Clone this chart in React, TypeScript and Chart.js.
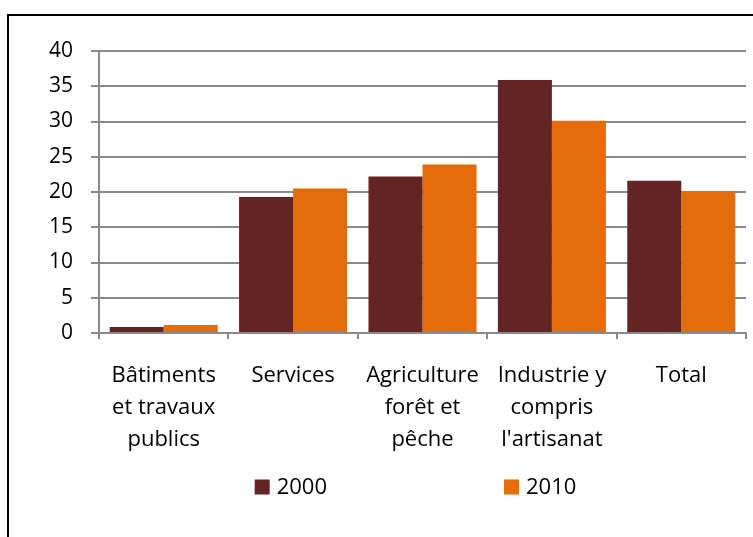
import React, { useEffect, useRef } from "react";
import { Chart, registerables } from "chart.js";

Chart.register(...registerables);

const categories: (string | string[])[] = [
  ["Bâtiments", "et travaux", "publics"],
  "Services",
  ["Agriculture", "forêt et", "pêche"],
  ["Industrie y", "compris", "l'artisanat"],
  "Total",
];
const seriesLabels = ["2000", "2010"];
const values2000 = [0.85, 19.3, 22.2, 35.9, 21.6];
const values2010 = [1.15, 20.5, 23.9, 30.1, 20.1];
const yTicks = [0, 5, 10, 15, 20, 25, 30, 35, 40];

const COLOR_2000 = "#632523";
const COLOR_2010 = "#E46C0A";
const GRID = "#8a8a8a";
const FONT = '"Open Sans", sans-serif';

const legendPlugin = {
  id: "customLegend",
  afterDraw(chart: any) {
    const { ctx, chartArea } = chart;
    ctx.save();
    ctx.font = `22px ${FONT}`;
    const box = 15;
    const gapText = 7;
    const gapItems = 177;
    const items = chart.data.datasets.map((ds: any) => ({
      label: ds.label,
      color: ds.backgroundColor,
      tw: ctx.measureText(ds.label).width,
    }));
    const total =
      items.reduce((s: number, it: any) => s + box + gapText + it.tw, 0) +
      gapItems * (items.length - 1);
    let x = (chartArea.left + chartArea.right) / 2 - 7 - total / 2;
    const cy = chartArea.bottom + 154;
    ctx.textBaseline = "middle";
    ctx.textAlign = "left";
    for (const it of items) {
      ctx.fillStyle = it.color;
      ctx.fillRect(x, cy - box / 2, box, box);
      ctx.fillStyle = "#000";
      ctx.fillText(it.label, x + box + gapText, cy + 1);
      x += box + gapText + it.tw + gapItems;
    }
    ctx.restore();
  },
};

export default function App() {
  const ref = useRef<HTMLCanvasElement | null>(null);

  useEffect(() => {
    if (!ref.current) return;
    const chart = new Chart(ref.current, {
      type: "bar",
      data: {
        labels: categories,
        datasets: [
          {
            label: seriesLabels[0],
            data: values2000,
            backgroundColor: COLOR_2000,
            categoryPercentage: 0.835,
            barPercentage: 1,
          },
          {
            label: seriesLabels[1],
            data: values2010,
            backgroundColor: COLOR_2010,
            categoryPercentage: 0.835,
            barPercentage: 1,
          },
        ],
      },
      options: {
        animation: false,
        responsive: false,
        layout: { padding: { top: 35, right: 7, left: 0, bottom: 0 } },
        plugins: {
          legend: { display: false },
          tooltip: { enabled: false },
        },
        scales: {
          x: {
            offset: true,
            grid: {
              offset: true,
              drawOnChartArea: false,
              drawTicks: true,
              tickLength: 6,
              color: GRID,
              lineWidth: 2,
            },
            border: { display: true, color: GRID, width: 2 },
            ticks: {
              color: "#000",
              padding: 21,
              maxRotation: 0,
              autoSkip: false,
              font: { family: FONT, size: 22, lineHeight: 1.4545 },
            },
            afterFit: (scale: any) => {
              scale.height = 204;
            },
          },
          y: {
            min: 0,
            max: 40,
            afterBuildTicks: (scale: any) => {
              scale.ticks = yTicks.map((v) => ({ value: v }));
            },
            grid: {
              color: GRID,
              lineWidth: 2,
              tickLength: 8,
              drawTicks: true,
            },
            border: { display: true, color: GRID, width: 2 },
            ticks: {
              color: "#000",
              padding: 18,
              font: { family: FONT, size: 21 },
            },
            afterFit: (scale: any) => {
              scale.width = 90;
            },
          },
        },
      },
      plugins: [legendPlugin],
    });
    return () => chart.destroy();
  }, []);

  return (
    <div
      style={{
        position: "fixed",
        left: 0,
        top: 0,
        width: "100vw",
        height: "100vh",
        overflow: "hidden",
        background: "#fff",
      }}
    >
      <div
        style={{
          position: "absolute",
          left: 7,
          top: 14,
          width: 900,
          height: 700,
          border: "2px solid #000",
          boxSizing: "border-box",
        }}
      />
      <div style={{ position: "absolute", left: 9, top: 16, width: 744, height: 521 }}>
        <canvas ref={ref} width={744} height={521} style={{ display: "block" }} />
      </div>
    </div>
  );
}
